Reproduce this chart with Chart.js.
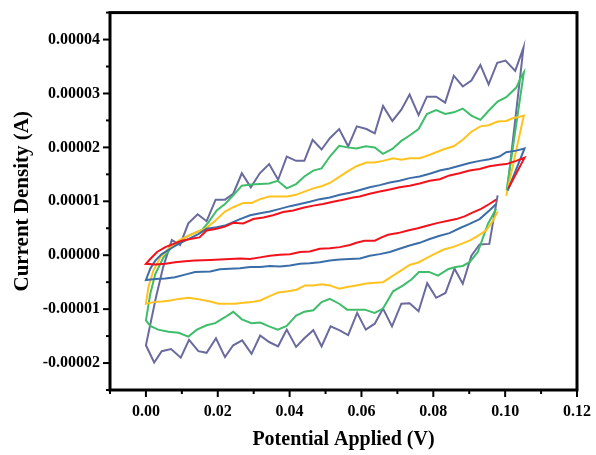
<!DOCTYPE html>
<html>
<head>
<meta charset="utf-8">
<title>Cyclic voltammetry</title>
<script src="https://cdn.jsdelivr.net/npm/chart.js@4.4.1/dist/chart.umd.min.js"></script>
<style>
  html, body { margin: 0; padding: 0; background: #fff; }
  #wrap { width: 596px; height: 455px; }
</style>
</head>
<body>
<div id="wrap"><canvas id="cvChart" width="596" height="455"></canvas></div>
<script>
// each loop: reverse sweep (~0.098 V -> 0 V) then forward sweep (0 V -> 0.105 V) and the drop at the vertex
// potential in V, current in µA (axis labels are printed in A)

const redRevV = [0.0975,0.0956,0.0933,0.0906,0.0887,0.0864,0.0841,0.0813,0.0785,0.0757,0.0729,0.0702,0.0674,0.0656,0.0637,0.0609,0.0586,0.0568,0.0540,0.0512,0.0484,0.0456,0.0429,0.0401,0.0373,0.0345,0.0318,0.0290,0.0262,0.0234,0.0206,0.0179,0.0137,0.0109,0.0081,0.0054,0.0026,0];
const redRevI = [10.3,9.5,8.6,7.8,7.2,6.7,6.4,6.0,5.5,5.0,4.6,4.1,3.8,3.3,2.7,2.7,2.3,1.9,1.5,1.3,1.2,0.7,0.6,0.2,0.1,-0.1,-0.4,-0.7,-0.6,-0.7,-0.8,-0.9,-1.0,-1.1,-1.3,-1.6,-1.7,-1.6];
const redFwdV = [0.0012,0.0031,0.0054,0.0077,0.0100,0.0123,0.0149,0.0169,0.0197,0.0220,0.0243,0.0271,0.0299,0.0327,0.0354,0.0382,0.0410,0.0438,0.0466,0.0493,0.0521,0.0549,0.0577,0.0595,0.0623,0.0651,0.0679,0.0706,0.0734,0.0762,0.0790,0.0818,0.0845,0.0873,0.0901,0.0929,0.0956,0.0984,0.1003,0.1031,0.1054,0.1009];
const redFwdI = [-0.7,0.6,1.5,2.1,2.7,3.0,3.3,4.6,4.9,5.3,6.0,5.9,6.7,7.0,7.4,8.0,8.3,8.8,9.2,9.5,9.9,10.3,10.7,10.9,11.4,11.8,12.2,12.6,12.9,13.3,13.8,14.1,14.8,15.2,15.7,16.0,16.5,16.8,16.9,17.5,18.1,12.4];

const blueRevV = [0.0975,0.0956,0.0929,0.0901,0.0873,0.0845,0.0818,0.0790,0.0762,0.0734,0.0706,0.0679,0.0651,0.0623,0.0596,0.0568,0.0540,0.0512,0.0484,0.0456,0.0429,0.0401,0.0373,0.0345,0.0318,0.0290,0.0262,0.0234,0.0206,0.0179,0.0137,0.0109,0.0081,0.0054,0.0026,0];
const blueRevI = [9.5,8.3,6.7,5.8,5.0,4.1,3.6,3.0,2.3,1.8,1.2,0.6,0.2,-0.1,-0.6,-0.7,-0.8,-1.0,-1.3,-1.5,-1.6,-1.9,-2.1,-2.0,-2.2,-2.2,-2.4,-2.5,-2.6,-3.0,-3.1,-3.6,-4.1,-4.3,-4.4,-4.6];
const blueFwdV = [0.0012,0.0026,0.0044,0.0068,0.0091,0.0118,0.0146,0.0169,0.0197,0.0220,0.0262,0.0290,0.0318,0.0345,0.0373,0.0401,0.0429,0.0456,0.0484,0.0512,0.0540,0.0568,0.0596,0.0623,0.0651,0.0679,0.0706,0.0734,0.0762,0.0790,0.0818,0.0845,0.0873,0.0901,0.0929,0.0956,0.0984,0.1003,0.1031,0.1054,0.1007];
const blueFwdI = [-2.5,-1.0,0.2,1.2,2.1,3.0,3.9,4.9,5.2,5.5,6.7,7.4,7.8,8.1,8.6,9.1,9.5,9.9,10.4,10.7,11.2,11.6,12.1,12.6,13.0,13.5,13.8,14.3,14.6,15.1,15.7,16.1,16.6,17.1,17.5,17.8,18.3,19.1,19.4,19.8,12.0];

const yellowRevV = [0.0979,0.0966,0.0947,0.0924,0.0901,0.0878,0.0854,0.0831,0.0808,0.0785,0.0760,0.0734,0.0711,0.0688,0.0660,0.0637,0.0609,0.0586,0.0560,0.0538,0.0512,0.0489,0.0466,0.0443,0.0419,0.0396,0.0368,0.0345,0.0318,0.0294,0.0271,0.0248,0.0225,0.0202,0.0179,0.0142,0.0118,0.0091,0.0068,0.0044,0.0021,0];
const yellowRevI = [8.1,6.4,4.6,3.6,2.7,2.1,1.5,1.1,0.4,-0.4,-1.3,-1.8,-2.8,-3.8,-5.0,-5.1,-5.3,-5.6,-5.9,-6.2,-5.6,-5.4,-5.6,-5.6,-6.4,-6.7,-6.9,-7.6,-8.4,-8.7,-8.8,-9.0,-9.0,-9.0,-8.6,-8.1,-7.9,-8.1,-8.4,-8.6,-8.7,-9.0];
const yellowFwdV = [0.0007,0.0021,0.0040,0.0063,0.0091,0.0118,0.0142,0.0165,0.0193,0.0220,0.0243,0.0271,0.0294,0.0318,0.0343,0.0368,0.0393,0.0418,0.0441,0.0466,0.0489,0.0512,0.0535,0.0558,0.0586,0.0614,0.0637,0.0660,0.0688,0.0711,0.0734,0.0762,0.0785,0.0808,0.0831,0.0857,0.0882,0.0906,0.0931,0.0954,0.0979,0.1003,0.1021,0.1040,0.1052,0.1003];
const yellowFwdI = [-5.9,-2.8,-0.4,1.2,2.7,3.6,4.3,4.9,6.4,8.1,8.9,9.7,9.7,10.4,10.9,10.9,10.9,11.2,11.8,12.4,12.8,13.4,14.4,15.4,16.5,17.2,17.2,17.5,18.0,17.7,18.0,18.0,18.5,19.1,19.7,20.2,21.4,22.9,23.9,24.1,24.8,24.9,25.4,25.7,25.9,11.0];

const greenRevV = [0.0975,0.0952,0.0924,0.0901,0.0882,0.0862,0.0841,0.0813,0.0788,0.0760,0.0739,0.0716,0.0688,0.0660,0.0637,0.0609,0.0586,0.0560,0.0538,0.0512,0.0489,0.0466,0.0441,0.0418,0.0392,0.0367,0.0343,0.0318,0.0294,0.0267,0.0243,0.0220,0.0193,0.0169,0.0142,0.0118,0.0091,0.0063,0.0034,0.0012,0];
const greenRevI = [8.6,5.8,0.6,-1.3,-2.0,-2.2,-2.6,-3.8,-3.1,-3.1,-4.5,-5.6,-6.7,-9.9,-10.7,-10.1,-10.1,-10.1,-9.0,-8.1,-8.7,-10.2,-10.5,-11.2,-13.1,-13.8,-13.2,-12.5,-12.6,-11.9,-10.5,-11.5,-12.6,-13.0,-13.8,-15.1,-14.4,-14.2,-13.8,-13.1,-12.1];
const greenFwdV = [0.0012,0.0026,0.0049,0.0072,0.0100,0.0128,0.0156,0.0174,0.0197,0.0220,0.0243,0.0267,0.0294,0.0318,0.0343,0.0367,0.0392,0.0418,0.0441,0.0466,0.0489,0.0512,0.0538,0.0561,0.0586,0.0612,0.0637,0.0660,0.0686,0.0711,0.0734,0.0759,0.0782,0.0808,0.0833,0.0857,0.0882,0.0906,0.0931,0.0954,0.0979,0.1003,0.1031,0.1044,0.1052,0.1004];
const greenFwdI = [-7.2,-3.5,-0.4,1.5,3.0,3.9,4.7,6.1,8.3,9.5,11.1,12.9,13.1,13.2,13.3,13.8,12.4,13.2,14.6,15.7,16.1,18.3,20.3,20.0,19.8,20.2,20.0,18.8,19.7,21.2,22.2,23.4,26.2,26.9,26.2,26.5,27.2,25.9,25.1,26.8,28.5,29.3,31.1,33.0,33.9,12.0];

const violetRevV = [0.0979,0.0956,0.0929,0.0906,0.0882,0.0859,0.0834,0.0808,0.0783,0.0759,0.0734,0.0711,0.0685,0.0660,0.0637,0.0612,0.0588,0.0563,0.0538,0.0514,0.0489,0.0466,0.0441,0.0418,0.0392,0.0368,0.0343,0.0318,0.0294,0.0268,0.0243,0.0220,0.0195,0.0169,0.0146,0.0120,0.0097,0.0070,0.0044,0.0023,0];
const violetRevI = [11.1,2.1,2.0,-0.1,-5.3,-2.5,-7.0,-7.9,-5.2,-10.4,-8.9,-9.0,-13.2,-9.9,-12.7,-13.8,-10.7,-14.8,-13.9,-13.2,-16.9,-13.9,-15.4,-17.0,-13.8,-16.9,-16.1,-14.9,-18.3,-15.8,-16.7,-18.9,-15.4,-18.1,-17.8,-15.7,-19.0,-17.4,-17.8,-19.9,-16.7];
const violetFwdV = [0.0028,0.0048,0.0072,0.0095,0.0118,0.0144,0.0169,0.0194,0.0220,0.0243,0.0267,0.0292,0.0317,0.0343,0.0368,0.0392,0.0418,0.0441,0.0464,0.0489,0.0512,0.0538,0.0563,0.0587,0.0614,0.0637,0.0660,0.0686,0.0711,0.0734,0.0759,0.0782,0.0808,0.0833,0.0857,0.0882,0.0906,0.0931,0.0954,0.0978,0.1001,0.1028,0.1051,0.1006];
const violetFwdI = [-7.8,-2.2,2.8,1.9,5.9,7.6,6.3,10.3,10.3,11.4,15.2,12.6,15.2,16.9,14.0,18.3,17.5,17.5,21.4,19.6,21.7,23.4,20.2,23.9,23.4,22.6,27.7,24.9,27.0,29.8,26.0,29.4,29.4,28.3,33.3,31.3,32.4,35.3,31.7,35.7,36.1,34.2,38.5,12.2];

// axis range: V and µA
const xMin = -0.01, xMax = 0.12, xStep = 0.01;
const yMin = -25, yMax = 45, yStep = 5;

function loop(revV, revI, fwdV, fwdI) {
  const pts = [];
  revV.forEach((v, i) => pts.push({ x: v, y: revI[i] }));
  fwdV.forEach((v, i) => pts.push({ x: v, y: fwdI[i] }));
  return pts;
}

function series(data, color) {
  return {
    data,
    showLine: true,
    borderColor: color,
    borderWidth: 2,
    pointRadius: 0,
    fill: false,
    tension: 0
  };
}

const serif = '"Liberation Serif", "Times New Roman", serif';

// box around the plot and major/minor tick marks
const frameTicks = {
  id: 'frameTicks',
  afterDraw(chart) {
    const { ctx, chartArea: a, scales: { x, y } } = chart;
    ctx.save();
    ctx.strokeStyle = '#000';
    ctx.lineWidth = 2;
    x.ticks.forEach(t => {
      const px = x.getPixelForValue(t.value);
      const len = t.label ? 7 : 4;
      ctx.beginPath();
      ctx.moveTo(px, a.bottom);
      ctx.lineTo(px, a.bottom + len);
      ctx.stroke();
    });
    y.ticks.forEach(t => {
      const py = y.getPixelForValue(t.value);
      const len = t.label ? 7 : 4;
      ctx.beginPath();
      ctx.moveTo(a.left, py);
      ctx.lineTo(a.left - len, py);
      ctx.stroke();
    });
    ctx.lineWidth = 3;
    ctx.strokeRect(a.left, a.top, a.right - a.left, a.bottom - a.top);
    ctx.restore();
  }
};

new Chart(document.getElementById('cvChart'), {
  type: 'scatter',
  data: {
    datasets: [
      series(loop(redRevV, redRevI, redFwdV, redFwdI), '#f2121c'),
      series(loop(blueRevV, blueRevI, blueFwdV, blueFwdI), '#3b6ea8'),
      series(loop(yellowRevV, yellowRevI, yellowFwdV, yellowFwdI), '#ffc21f'),
      series(loop(greenRevV, greenRevI, greenFwdV, greenFwdI), '#3ebd6b'),
      series(loop(violetRevV, violetRevI, violetFwdV, violetFwdI), '#6a6a9e')
    ]
  },
  options: {
    responsive: false,
    animation: false,
    layout: { padding: { top: 12, right: 18, left: 0, bottom: 0 } },
    plugins: { legend: { display: false }, tooltip: { enabled: false } },
    scales: {
      x: {
        type: 'linear',
        min: xMin,
        max: xMax,
        grid: { display: false, drawTicks: true, tickLength: 7 },
        border: { display: false },
        ticks: {
          stepSize: xStep,
          autoSkip: false,
          maxRotation: 0,
          padding: 5,
          color: '#000',
          font: { family: serif, weight: 'bold', size: 16 },
          callback: v => Math.round(v * 100) % 2 === 0 ? v.toFixed(2) : ''
        },
        title: {
          display: true,
          text: 'Potential Applied (V)',
          color: '#000',
          font: { family: serif, weight: 'bold', size: 20 },
          padding: { top: 0, bottom: 3 }
        },
        afterFit: s => { s.height = 65; }
      },
      y: {
        type: 'linear',
        min: yMin,
        max: yMax,
        grid: { display: false, drawTicks: true, tickLength: 7 },
        border: { display: false },
        ticks: {
          stepSize: yStep,
          autoSkip: false,
          padding: 3,
          color: '#000',
          font: { family: serif, weight: 'bold', size: 16 },
          callback: v => v % 10 === 0 ? (v / 1e6).toFixed(5) : ''
        },
        title: {
          display: true,
          text: 'Current Density (A)',
          color: '#000',
          font: { family: serif, weight: 'bold', size: 21 },
          padding: { top: 10, bottom: 0 }
        },
        afterFit: s => { s.width = 110; }
      }
    }
  },
  plugins: [frameTicks]
});
</script>
</body>
</html>
